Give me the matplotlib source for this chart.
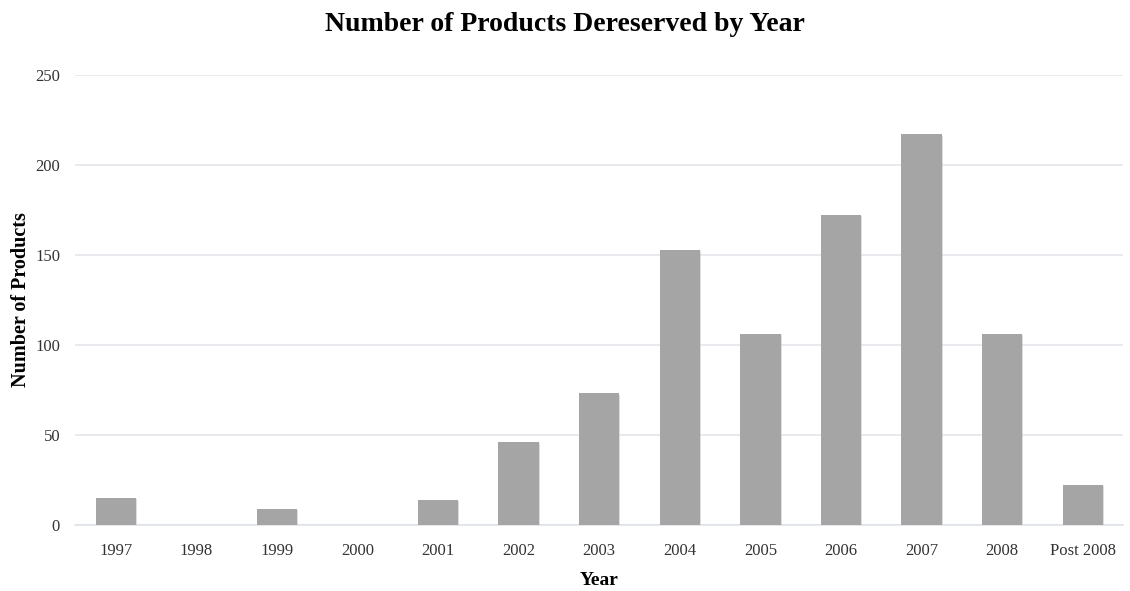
import matplotlib
matplotlib.use("Agg")
import matplotlib.pyplot as plt
import matplotlib.patheffects as pe

years = ["1997", "1998", "1999", "2000", "2001", "2002", "2003",
         "2004", "2005", "2006", "2007", "2008", "Post 2008"]
products = [15, 0, 9, 0, 14, 46, 73, 153, 106, 172, 217, 106, 22]
y_ticks = [0, 50, 100, 150, 200, 250]

plt.rcParams["font.family"] = ["Liberation Serif", "DejaVu Serif"]

fig = plt.figure(figsize=(11.30, 5.91), dpi=100)
ax = fig.add_axes([0.0667, 0.1122, 0.9271, 0.7608])

x = range(len(years))
bars = ax.bar(x, products, width=0.5, color="#a5a5a5", zorder=3)
for b in bars:
    b.set_path_effects([
        pe.SimplePatchShadow(offset=(0.8, -0.8), shadow_rgbFace="#c8c8c8", alpha=0.6),
        pe.Normal(),
    ])

ax.set_xlim(-0.5, len(years) - 0.5)
ax.set_ylim(0, 250)
ax.set_yticks(y_ticks)
ax.set_xticks(list(x))
ax.set_xticklabels(years)

ax.grid(axis="y", color="#e1e4ea", linewidth=1.1, zorder=0)
ax.set_axisbelow(True)
for side in ("top", "right", "left"):
    ax.spines[side].set_visible(False)
ax.spines["bottom"].set_color("#dde1e8")
ax.spines["bottom"].set_linewidth(1.1)
ax.tick_params(axis="both", length=0, labelsize=12, colors="#333333")
ax.tick_params(axis="y", pad=11)
ax.tick_params(axis="x", pad=13.5)

ax.set_ylabel("Number of Products", fontsize=14.5, fontweight="bold")
ax.set_xlabel("Year", fontsize=14, fontweight="bold", labelpad=9)
ax.yaxis.set_label_coords(-0.042, 0.5)

fig.suptitle("Number of Products Dereserved by Year", fontsize=20,
             fontweight="bold", x=0.5, y=0.98, va="top")

fig.savefig("out.png", dpi=100, facecolor="white")
